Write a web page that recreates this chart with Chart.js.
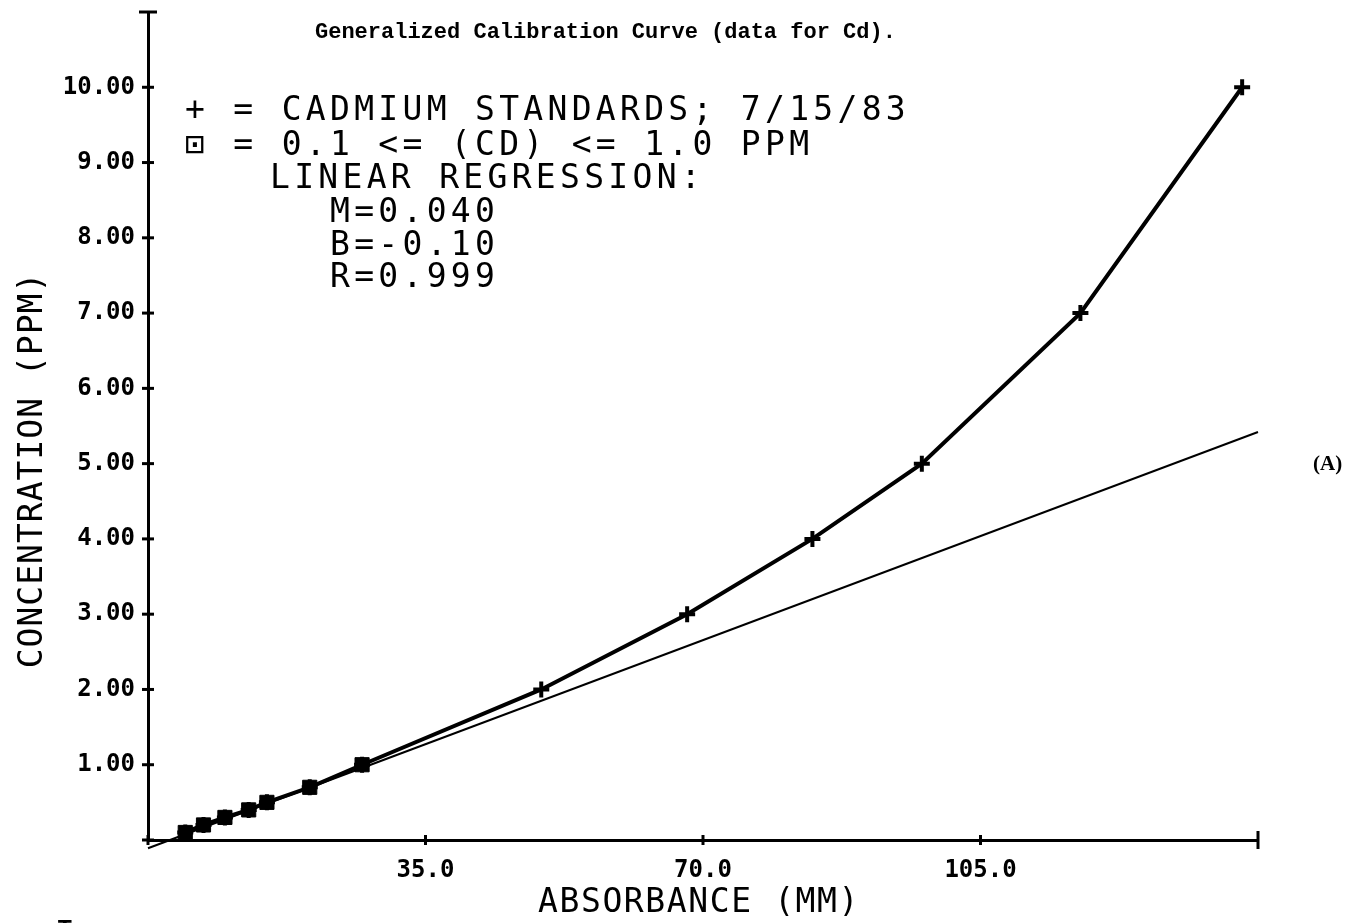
<!DOCTYPE html>
<html>
<head>
<meta charset="utf-8">
<script src="https://cdn.jsdelivr.net/npm/chart.js@4/dist/chart.umd.min.js"></script>
<style>
  html, body { margin: 0; padding: 0; background: #fff; }
  #wrap { width: 1357px; height: 923px; }
</style>
</head>
<body>
<div id="wrap"><canvas id="c" width="1357" height="923"></canvas></div>
<script>
// ---- data ----
const absorbance = [4.7, 7.0, 9.7, 12.7, 15.0, 20.4, 27.0, 49.6, 68.0, 83.8, 97.6, 117.6, 138.0];
const concentration = [0.1, 0.2, 0.3, 0.4, 0.5, 0.7, 1.0, 2.0, 3.0, 4.0, 5.0, 7.0, 10.0];
const lowRangeCount = 7; // points with 0.1 <= [Cd] <= 1.0 ppm
const regressionX = [0, 140];
const regressionY = [-0.11, 5.42];
const xTickLabels = [35, 70, 105];
const yTickValues = [1, 2, 3, 4, 5, 6, 7, 8, 9, 10];

const titleText = 'Generalized Calibration Curve (data for Cd).';
const noteLines = [
  ['+ = CADMIUM STANDARDS; 7/15/83', 0],
  ['\u22A1 = 0.1 <= (CD) <= 1.0 PPM', 0],
  ['LINEAR REGRESSION:', 1],
  ['M=0.040', 2],
  ['B=-0.10', 2],
  ['R=0.999', 2]
];
const xTitle = 'ABSORBANCE (MM)';
const yTitle = 'CONCENTRATION (PPM)';
const panelLabel = '(A)';

const stdPoints = absorbance.map((x, i) => ({ x: x, y: concentration[i] }));
const lowPoints = stdPoints.slice(0, lowRangeCount);
const regPoints = regressionX.map((x, i) => ({ x: x, y: regressionY[i] }));

const decor = {
  id: 'decor',
  beforeDraw(chart) {
    const ctx = chart.ctx;
    ctx.save();
    ctx.fillStyle = '#fff';
    ctx.fillRect(0, 0, chart.width, chart.height);
    ctx.restore();
  },
  afterDraw(chart) {
    const ctx = chart.ctx;
    const xs = chart.scales.x, ys = chart.scales.y;
    const x0 = xs.getPixelForValue(0), y0 = ys.getPixelForValue(0);
    ctx.save();
    ctx.strokeStyle = '#000';
    ctx.fillStyle = '#000';
    ctx.lineCap = 'butt';
    // crossing tick marks
    ctx.lineWidth = 3;
    ys.ticks.forEach(t => {
      const p = ys.getPixelForValue(t.value);
      const half = (t.value === ys.max) ? 9 : 6;
      ctx.beginPath(); ctx.moveTo(x0 - half, p); ctx.lineTo(x0 + half, p); ctx.stroke();
    });
    xs.ticks.forEach(t => {
      const p = xs.getPixelForValue(t.value);
      const half = (t.value === xs.max) ? 9 : 5;
      ctx.beginPath(); ctx.moveTo(p, y0 - half); ctx.lineTo(p, y0 + half); ctx.stroke();
    });

    // title
    ctx.font = 'bold 22px "Liberation Mono"';
    ctx.textAlign = 'left';
    ctx.textBaseline = 'middle';
    ctx.fillText(titleText, 315, 32);

    // note block
    ctx.font = '33px "DejaVu Sans Mono"';
    ctx.letterSpacing = '4.3px';
    ctx.textBaseline = 'alphabetic';
    const lineY = [120, 155, 188, 222, 255, 287];
    const indentX = [185, 270, 330];
    noteLines.forEach((ln, i) => {
      ctx.fillText(ln[0], indentX[ln[1]], lineY[i]);
    });

    // axis titles
    ctx.font = '33px "DejaVu Sans Mono"';
    ctx.letterSpacing = '1.6px';
    ctx.textAlign = 'left';
    ctx.fillText(xTitle, 538, 912);
    ctx.letterSpacing = '1px';
    ctx.save();
    ctx.translate(42, 470);
    ctx.rotate(-Math.PI / 2);
    ctx.textAlign = 'center';
    ctx.fillText(yTitle, 0, 0);
    ctx.restore();

    // panel label
    ctx.letterSpacing = '0px';
    ctx.font = 'bold 21px "Liberation Serif"';
    ctx.textAlign = 'left';
    ctx.textBaseline = 'middle';
    ctx.fillText(panelLabel, 1313, 465);

    // stray plotter mark at bottom-left corner
    ctx.font = 'bold 20px "DejaVu Sans"';
    ctx.textBaseline = 'alphabetic';
    ctx.fillText('T', 58, 934);
    ctx.restore();
  }
};

new Chart(document.getElementById('c'), {
  type: 'scatter',
  data: {
    datasets: [
      {
        label: 'Linear regression',
        data: regPoints,
        showLine: true,
        borderColor: '#000',
        borderWidth: 2,
        pointRadius: 0,
        clip: false
      },
      {
        label: 'Cadmium standards',
        data: stdPoints,
        showLine: true,
        borderColor: '#000',
        borderWidth: 4,
        pointStyle: 'cross',
        pointRadius: 8,
        pointBorderWidth: 4,
        pointBackgroundColor: '#000',
        pointBorderColor: '#000'
      },
      {
        label: '0.1 <= (CD) <= 1.0 PPM',
        data: lowPoints,
        showLine: false,
        pointStyle: 'rect',
        pointRadius: 10,
        pointBorderWidth: 1,
        pointBackgroundColor: '#000',
        pointBorderColor: '#000'
      }
    ]
  },
  options: {
    responsive: false,
    animation: false,
    devicePixelRatio: 1,
    layout: { padding: { left: 0, right: 99, top: 10, bottom: 0 } },
    plugins: { legend: { display: false }, tooltip: { enabled: false }, title: { display: false } },
    scales: {
      x: {
        type: 'linear',
        min: 0,
        max: 140,
        afterFit: s => { s.height = 83; s.paddingLeft = 0; s.paddingRight = 0; },
        afterBuildTicks: s => { s.ticks = [0, ...xTickLabels, 140].map(v => ({ value: v })); },
        ticks: {
          color: '#000',
          font: { family: '"DejaVu Sans Mono"', weight: 'bold', size: 24 },
          padding: 16,
          maxRotation: 0,
          autoSkip: false,
          callback: v => xTickLabels.includes(v) ? v.toFixed(1) : ''
        },
        grid: { drawOnChartArea: false, drawTicks: false },
        border: { display: true, color: '#000', width: 3 }
      },
      y: {
        type: 'linear',
        min: 0,
        max: 11,
        afterFit: s => { s.width = 148; s.paddingTop = 0; s.paddingBottom = 0; },
        afterBuildTicks: s => { s.ticks = [0, ...yTickValues, 11].map(v => ({ value: v })); },
        ticks: {
          color: '#000',
          font: { family: '"DejaVu Sans Mono"', weight: 'bold', size: 24 },
          padding: 13,
          autoSkip: false,
          callback: v => yTickValues.includes(v) ? v.toFixed(2) : ''
        },
        grid: { drawOnChartArea: false, drawTicks: false },
        border: { display: true, color: '#000', width: 3 }
      }
    }
  },
  plugins: [decor]
});
</script>
</body>
</html>
